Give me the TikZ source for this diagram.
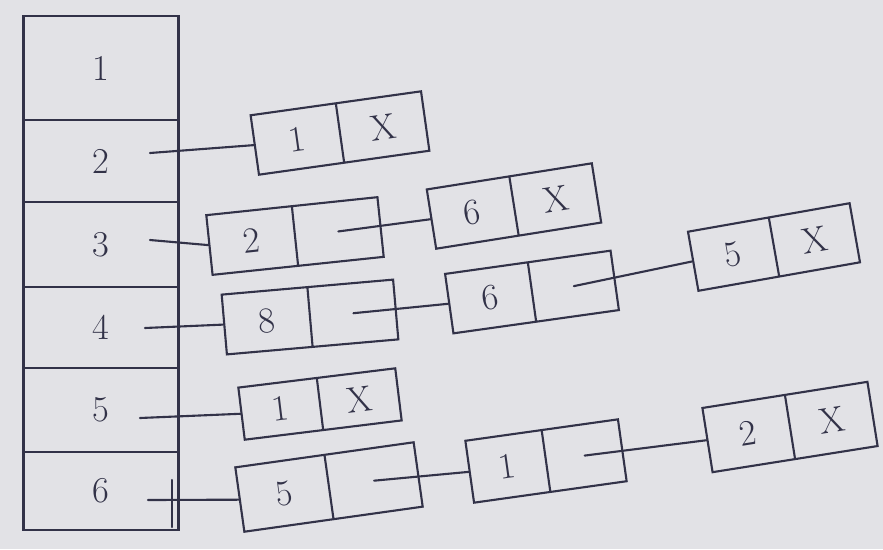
\documentclass[tikz,border=0pt]{standalone}
\usetikzlibrary{shapes.multipart,calc}
\definecolor{paper}{RGB}{226,226,230}
\definecolor{ink}{RGB}{50,50,72}
\begin{document}
\begin{tikzpicture}[x=0.02cm,y=-0.02cm,
  cell/.style={draw=ink, very thick, minimum width=3.1cm, inner sep=0pt, font=\huge, text=ink},
  lnode/.style={draw=ink, very thick, rectangle split, rectangle split horizontal,
    rectangle split parts=2, text width=1.7cm, inner xsep=0pt, inner ysep=0pt,
    minimum height=1.2cm, align=center, font=\huge, text=ink},
  link/.style={draw=ink, very thick, line cap=round}]
\fill[paper] (0,0) rectangle (883,549);
\useasboundingbox (0,0) rectangle (883,549);
% array of heads
\node[cell, minimum height=2.08cm] (a1) at (101,68) {1};
\node[cell, minimum height=1.64cm] (a2) at (101,161) {2};
\node[cell, minimum height=1.70cm] (a3) at (101,244.5) {3};
\node[cell, minimum height=1.62cm] (a4) at (101,327.5) {4};
\node[cell, minimum height=1.68cm] (a5) at (101,410) {5};
\node[cell, minimum height=1.56cm] (a6) at (101,491) {6};
\draw[link] (172,480) -- (172,527);
% start points inside the head cells
\coordinate (s2) at (150,153);
\coordinate (s3) at (150,240);
\coordinate (s4) at (145,328);
\coordinate (s5) at (140,418);
\coordinate (s6) at (148,500);
% list nodes
\node[lnode, rotate=8] (l2a) at (340,133) {1 \nodepart{two} X};
\node[lnode, rotate=6] (l3a) at (295,236) {2 \nodepart{two} \phantom{X}};
\node[lnode, rotate=9, text width=1.65cm] (l3b) at (514,206) {6 \nodepart{two} X};
\node[lnode, rotate=5] (l4a) at (310,317) {8 \nodepart{two} \phantom{X}};
\node[lnode, rotate=8, text width=1.65cm] (l4b) at (532,292) {6 \nodepart{two} \phantom{X}};
\node[lnode, rotate=10, text width=1.62cm] (l4c) at (774,247) {5 \nodepart{two} X};
\node[lnode, rotate=7, text width=1.56cm, minimum height=1.05cm] (l5a) at (320,404) {1 \nodepart{two} X};
\node[lnode, rotate=8, text width=1.78cm, minimum height=1.3cm] (l6a) at (329,487) {5 \nodepart{two} \phantom{X}};
\node[lnode, rotate=8, text width=1.52cm, minimum height=1.25cm] (l6b) at (546,461) {1 \nodepart{two} \phantom{X}};
\node[lnode, rotate=9, text width=1.65cm, minimum height=1.3cm] (l6c) at (790,427) {2 \nodepart{two} X};
% head links
\draw[link] (s2) -- (l2a.west);
\draw[link] (s3) -- (l3a.west);
\draw[link] (s4) -- (l4a.west);
\draw[link] (s5) -- (l5a.west);
\draw[link] (s6) -- (l6a.west);
% next pointers
\draw[link] ($(l3a.one split)!0.5!(l3a.east)$) -- (l3b.west);
\draw[link] ($(l4a.one split)!0.5!(l4a.east)$) -- (l4b.west);
\draw[link] ($(l4b.one split)!0.5!(l4b.east)$) -- (l4c.west);
\draw[link] ($(l6a.one split)!0.5!(l6a.east)$) -- (l6b.west);
\draw[link] ($(l6b.one split)!0.5!(l6b.east)$) -- (l6c.west);
\end{tikzpicture}
\end{document}
